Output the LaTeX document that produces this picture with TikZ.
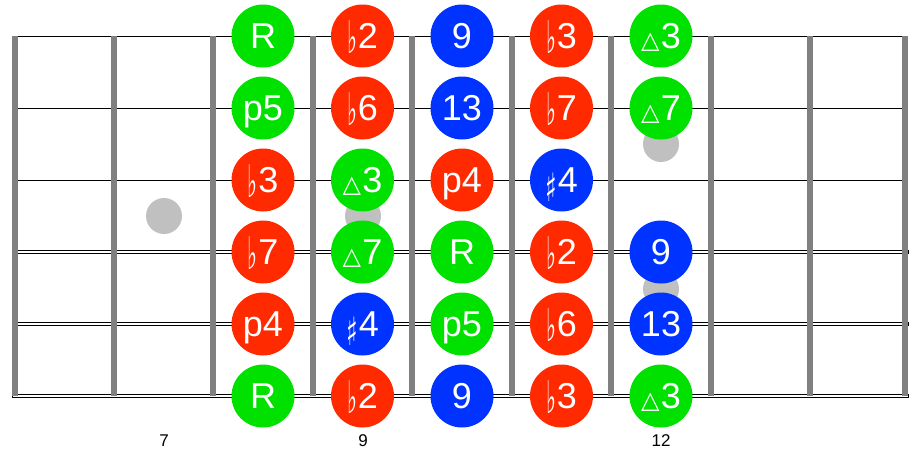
\documentclass[tikz,border=0pt]{standalone}
\usepackage{fontspec}
\usepackage{graphicx}
\setmainfont{Liberation Sans}
\newfontfamily\musicfont{DejaVu Sans}
\definecolor{notegreen}{RGB}{0,225,0}
\definecolor{notered}{RGB}{255,42,0}
\definecolor{noteblue}{RGB}{0,51,255}
\definecolor{fretgray}{RGB}{128,128,128}
\definecolor{dotgray}{RGB}{192,192,192}
\newcommand\flatnote{\raisebox{-5pt}{\scalebox{0.7}[1.5]{\musicfont\fontsize{30}{30}\selectfont ♭}}\kern1pt}
\newcommand\sharpnote{\raisebox{-9pt}{\scalebox{0.8}[1.3]{\musicfont\fontsize{30}{30}\selectfont ♯}}\kern1pt}
\newcommand\majnote{{\musicfont\fontsize{24}{24}\selectfont △}\kern1.5pt}
\tikzset{
note/.style={circle, minimum size=63pt, inner sep=0pt, text=white,
  font=\fontsize{36}{36}\selectfont, text height=25pt, text depth=0pt},
gnote/.style={note, fill=notegreen},
rnote/.style={note, fill=notered},
bnote/.style={note, fill=noteblue},
fretnum/.style={font=\fontsize{17}{17}\selectfont, inner sep=0pt}
}

\begin{document}
\begin{tikzpicture}[x=1pt,y=-1pt]
\useasboundingbox (0,0) rectangle (924,459);
%strings
\foreach \y in {36,108,180}{
\draw[line width=1pt] (12,\y) -- (908,\y);
}
\foreach \y in {252,324,396}{
\draw[line width=0.8pt] (12,\y-1.6) rectangle (908,\y+1.6);
}
%frets
\foreach \x in {15,114,213,313,412,512,611,711,810,905}{
\draw[fretgray, line width=6pt] (\x,36) -- (\x,396);
}
%inlays
\foreach \x/\y in {164/216,363/216,661/144,661/289}{
\fill[dotgray] (\x,\y) circle[radius=18pt];
}
%notes, string by string
\foreach \x/\s/\t [count=\i] in {263/gnote/R, 362.5/rnote/\flatnote2, 462/bnote/9, 561.5/rnote/\flatnote3, 661/gnote/\majnote3}{
\node[\s] (a\i) at (\x,36) {\t};
}
\foreach \x/\s/\t [count=\i] in {263/gnote/p5, 362.5/rnote/\flatnote6, 462/bnote/13, 561.5/rnote/\flatnote7, 661/gnote/\majnote7}{
\node[\s] (b\i) at (\x,108) {\t};
}
\foreach \x/\s/\t [count=\i] in {263/rnote/\flatnote3, 362.5/gnote/\majnote3, 462/rnote/p4, 561.5/bnote/\sharpnote4}{
\node[\s] (c\i) at (\x,180) {\t};
}
\foreach \x/\s/\t [count=\i] in {263/rnote/\flatnote7, 362.5/gnote/\majnote7, 462/gnote/R, 561.5/rnote/\flatnote2, 661/bnote/9}{
\node[\s] (d\i) at (\x,252) {\t};
}
\foreach \x/\s/\t [count=\i] in {263/rnote/p4, 362.5/bnote/\sharpnote4, 462/gnote/p5, 561.5/rnote/\flatnote6, 661/bnote/13}{
\node[\s] (e\i) at (\x,324) {\t};
}
\foreach \x/\s/\t [count=\i] in {263/gnote/R, 362.5/rnote/\flatnote2, 462/bnote/9, 561.5/rnote/\flatnote3, 661/gnote/\majnote3}{
\node[\s] (f\i) at (\x,396) {\t};
}
%fret numbers
\node[fretnum] (fret7) at (164,441) {7};
\node[fretnum] (fret9) at (363,441) {9};
\node[fretnum] (fret12) at (661,441) {12};
\end{tikzpicture}
\end{document}
